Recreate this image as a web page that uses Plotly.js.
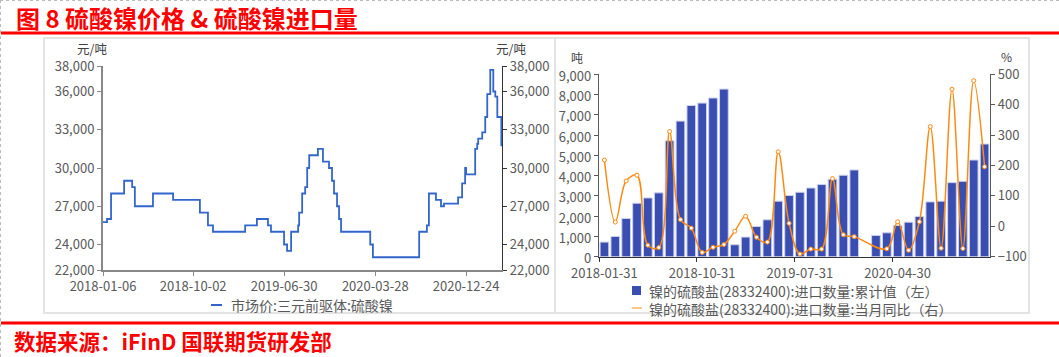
<!DOCTYPE html>
<html>
<head>
<meta charset="utf-8">
<script src="https://cdn.plot.ly/plotly-3.0.1.min.js"></script>
<style>
html,body{margin:0;padding:0;background:#fff;}
#chart{width:1059px;height:357px;}
</style>
</head>
<body>
<div id="chart"></div>
<script>
// ---------- Left chart: 市场价:三元前驱体:硫酸镍 (元/吨), step changes ----------
const priceDates = ['2018-01-06','2018-01-18','2018-01-30','2018-03-10','2018-04-03','2018-04-11','2018-06-04','2018-08-03','2018-10-22','2018-11-15','2018-11-30','2019-03-06','2019-04-10','2019-05-13','2019-05-22','2019-06-30','2019-07-09','2019-07-21','2019-08-11','2019-08-14','2019-08-23','2019-09-01','2019-09-07','2019-09-13','2019-10-09','2019-10-24','2019-11-11','2019-11-20','2019-11-26','2019-12-05','2019-12-11','2019-12-17','2020-03-13','2020-03-21','2020-08-06','2020-08-29','2020-09-04','2020-09-25','2020-10-10','2020-10-19','2020-11-30','2020-12-12','2020-12-21','2020-12-24','2021-01-20','2021-01-26','2021-01-29','2021-02-10','2021-02-19','2021-02-25','2021-03-06','2021-03-15','2021-03-21','2021-03-27','2021-04-08'];
const priceValues = [25750,26000,28000,29000,28500,27000,28000,27500,26500,25500,25000,25500,26000,25500,25000,24000,23500,25000,25500,26500,28000,28500,30000,31000,31500,30500,30000,29000,28000,27000,26000,25000,24000,23000,25000,25500,28000,27500,27000,27200,27700,28800,30000,29500,31500,31900,32300,32800,34000,35800,37700,36000,35600,34000,31700];
const priceTickVals = ['2018-01-06','2018-10-02','2019-06-30','2020-03-28','2020-12-24'];
const priceYTicks = [22000,24000,27000,30000,33000,36000,38000];
const priceName = '市场价:三元前驱体:硫酸镍';

// ---------- Right chart: 镍的硫酸盐(28332400) 进口 ----------
const months = ['2018-01-31','2018-02-28','2018-03-31','2018-04-30','2018-05-31','2018-06-30','2018-07-31','2018-08-31','2018-09-30','2018-10-31','2018-11-30','2018-12-31',
                '2019-01-31','2019-02-28','2019-03-31','2019-04-30','2019-05-31','2019-06-30','2019-07-31','2019-08-31','2019-09-30','2019-10-31','2019-11-30','2019-12-31',
                '2020-01-31','2020-02-29','2020-03-31','2020-04-30','2020-05-31','2020-06-30','2020-07-31','2020-08-31','2020-09-30','2020-10-31','2020-11-30','2020-12-31'];
const cumValues = [720,1000,1885,2640,2900,3150,5720,6690,7460,7580,7830,8270,
                   590,967,1490,1820,2740,3020,3180,3390,3560,3820,4020,4280,
                   null,1050,1180,1540,1705,1985,2705,2740,3655,3720,4770,5560];
const yoyValues = [218,14,149,168,-62,-70,312,22,-6,-86,-69,-60,
                   -16,33,-36,-52,245,10,-91,-75,-75,157,-28,-34,
                   null,null,-74,15,-79,15,328,-72,451,-73,479,196];
const cumName = '镍的硫酸盐(28332400):进口数量:累计值（左）';
const yoyName = '镍的硫酸盐(28332400):进口数量:当月同比（右）';

const W = 1059, H = 357;
const px = x => x / W;
const py = y => 1 - y / H;
const FONT = '"Noto Sans CJK SC", "Noto Sans", sans-serif';
const TICKCOL = '#595959';
const BLUE_LINE = '#3366CC';
const BAR = '#3A4DB0';
const ORANGE = '#FF8A12';

const traces = [
  {type:'scatter', mode:'lines', x:priceDates, y:priceValues, name:priceName,
   line:{color:BLUE_LINE, width:1.8, shape:'hv'}, xaxis:'x', yaxis:'y', showlegend:false},
  // same series bound to the right-hand axis (transparent) so that axis is drawn
  {type:'scatter', mode:'lines', x:priceDates, y:priceValues, name:priceName,
   line:{color:'rgba(0,0,0,0)', width:0.1, shape:'hv'}, xaxis:'x', yaxis:'y2', showlegend:false, hoverinfo:'skip'},
  {type:'bar', x:months, y:cumValues, name:cumName,
   marker:{color:BAR, line:{color:'#CDD2EE', width:1}}, xaxis:'x2', yaxis:'y3', showlegend:false},
  {type:'scatter', mode:'lines+markers', x:months, y:yoyValues, name:yoyName, connectgaps:true,
   line:{color:ORANGE, width:1.5, shape:'spline', smoothing:1},
   marker:{symbol:'circle', size:4, color:'#FFFFFF', line:{color:ORANGE, width:1}},
   xaxis:'x2', yaxis:'y4', showlegend:false}
];

const tickFont = {family:FONT, size:13, color:TICKCOL};

const layout = {
  width:W, height:H,
  margin:{l:0,r:0,t:0,b:0},
  paper_bgcolor:'#FFFFFF', plot_bgcolor:'rgba(0,0,0,0)',
  showlegend:false,
  bargap:0.2,
  font:{family:FONT, color:TICKCOL},
  xaxis:{domain:[px(103), px(502)], anchor:'y', type:'date',
         range:['2018-01-06','2021-04-10'], tickmode:'array', tickvals:priceTickVals, ticktext:priceTickVals,
         ticks:'outside', ticklen:4, tickcolor:'#888', showline:true, linecolor:'#888', linewidth:1.5,
         showgrid:false, zeroline:false, tickfont:tickFont},
  yaxis:{domain:[py(270), py(66)], anchor:'x', range:[22000,38000], tickmode:'array', tickvals:priceYTicks,
         tickformat:',d', ticks:'outside', ticklen:4, tickcolor:'#888', showline:true, linecolor:'#888', linewidth:2,
         showgrid:false, zeroline:false, tickfont:tickFont},
  yaxis2:{overlaying:'y', side:'right', anchor:'x', range:[22000,38000], tickmode:'array', tickvals:priceYTicks,
          tickformat:',d', ticks:'outside', ticklen:4, tickcolor:'#333', showline:true, linecolor:'#333', linewidth:1.2,
          showgrid:false, zeroline:false, tickfont:tickFont},
  xaxis2:{domain:[px(599), px(990)], anchor:'y3', type:'category', range:[-0.5,35.5],
          tickmode:'linear', tick0:0, dtick:9, tickson:'boundaries', ticklabelstandoff:4,
          ticks:'outside', ticklen:4, tickcolor:'#333', showline:true, linecolor:'#333', linewidth:1.2,
          showgrid:false, zeroline:false, tickfont:tickFont, tickangle:0},
  yaxis3:{domain:[py(256.7), py(74.3)], anchor:'x2', range:[0,9000], dtick:1000, tickformat:',d', ticklabelshift:2,
          ticks:'outside', ticklen:4, tickcolor:'#595959', showline:true, linecolor:'#595959', linewidth:1.2,
          showgrid:false, zeroline:false, tickfont:tickFont},
  yaxis4:{overlaying:'y3', side:'right', anchor:'x2', range:[-100,500], dtick:100,
          ticks:'outside', ticklen:4, tickcolor:'#595959', showline:true, linecolor:'#595959', linewidth:1.2,
          showgrid:false, zeroline:false, tickfont:tickFont},
  shapes:[
    // dashed outer border (top & left)
    {type:'line', xref:'paper', yref:'paper', x0:0, x1:1, y0:py(0.5), y1:py(0.5), line:{color:'#BBBBBB', width:1, dash:'dot'}},
    {type:'line', xref:'paper', yref:'paper', x0:px(0.5), x1:px(0.5), y0:0, y1:1, line:{color:'#BBBBBB', width:1, dash:'dot'}},
    // red rules
    {type:'line', xref:'paper', yref:'paper', x0:px(1), x1:1, y0:py(33), y1:py(33), line:{color:'#FF0000', width:3}},
    {type:'line', xref:'paper', yref:'paper', x0:px(1), x1:1, y0:py(323), y1:py(323), line:{color:'#FF0000', width:3}},
    // panel frames
    {type:'rect', xref:'paper', yref:'paper', x0:px(44), x1:px(555), y0:py(313), y1:py(38), line:{color:'#E3E3E3', width:2}},
    {type:'rect', xref:'paper', yref:'paper', x0:px(555), x1:px(1029), y0:py(313), y1:py(38), line:{color:'#E3E3E3', width:2}},
    // legend symbols
    {type:'line', xref:'paper', yref:'paper', x0:px(211), x1:px(222), y0:py(305), y1:py(305), line:{color:BLUE_LINE, width:2}},
    {type:'rect', xref:'paper', yref:'paper', x0:px(632), x1:px(641), y0:py(295), y1:py(286), fillcolor:BAR, line:{width:0}},
    {type:'line', xref:'paper', yref:'paper', x0:px(632), x1:px(642), y0:py(308), y1:py(308), line:{color:'#FFC58A', width:2}}
  ],
  annotations:[
    {text:'<b>图 8 硫酸镍价格 &amp; 硫酸镍进口量</b>', xref:'paper', yref:'paper', x:px(14), y:py(17), xanchor:'left', yanchor:'middle',
     showarrow:false, font:{family:FONT, size:24, color:'#FF0000'}},
    {text:'<b>数据来源：iFinD 国联期货研发部</b>', xref:'paper', yref:'paper', x:px(12), y:py(340), xanchor:'left', yanchor:'middle',
     showarrow:false, font:{family:FONT, size:21.5, color:'#FF0000'}},
    {text:'元/吨', xref:'paper', yref:'paper', x:px(92), y:py(49), xanchor:'center', yanchor:'middle', borderpad:0, showarrow:false, font:{family:FONT, size:12.5, color:'#404040'}},
    {text:'元/吨', xref:'paper', yref:'paper', x:px(511), y:py(49), xanchor:'center', yanchor:'middle', borderpad:0, showarrow:false, font:{family:FONT, size:12.5, color:'#404040'}},
    {text:'吨', xref:'paper', yref:'paper', x:px(577), y:py(58), xanchor:'center', yanchor:'middle', borderpad:0, showarrow:false, font:{family:FONT, size:12, color:'#404040'}},
    {text:'%', xref:'paper', yref:'paper', x:px(1006), y:py(57), xanchor:'center', yanchor:'middle', borderpad:0, showarrow:false, font:{family:FONT, size:12, color:'#404040'}},
    {text:priceName, xref:'paper', yref:'paper', x:px(229), y:py(305), xanchor:'left', yanchor:'middle', showarrow:false, font:{family:FONT, size:14, color:TICKCOL}},
    {text:cumName + '<br>' + yoyName, xref:'paper', yref:'paper', x:px(648), y:py(299.5), xanchor:'left', yanchor:'middle', align:'left', borderpad:0,
     showarrow:false, font:{family:FONT, size:14, color:TICKCOL}}
  ]
};

Plotly.newPlot('chart', traces, layout, {staticPlot:true, displayModeBar:false});
</script>
</body>
</html>
